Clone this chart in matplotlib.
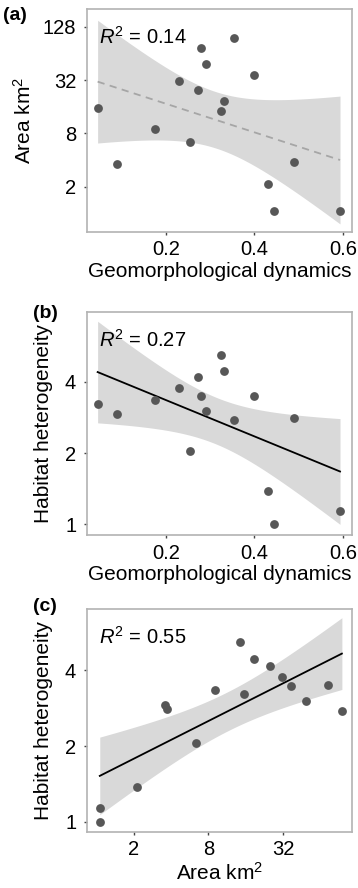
import numpy as np
import matplotlib
matplotlib.use('Agg')
import matplotlib.pyplot as plt
from matplotlib.ticker import FixedLocator, NullLocator

plt.rcParams['font.family'] = ['Liberation Sans', 'DejaVu Sans']
plt.rcParams['mathtext.fontset'] = 'custom'
plt.rcParams['mathtext.rm'] = 'Liberation Sans'
plt.rcParams['mathtext.it'] = 'Liberation Sans:italic'

# 16 sites
geo_dyn = [0.046, 0.089, 0.175, 0.230, 0.254, 0.272, 0.279, 0.290,
           0.325, 0.331, 0.354, 0.400, 0.430, 0.444, 0.489, 0.593]
area_km2 = [15.5, 3.6, 9.0, 31.5, 6.4, 25.0, 74.0, 49.0,
            14.3, 18.5, 95.0, 37.0, 2.12, 1.07, 3.75, 1.07]
habitat_het = [3.23, 2.92, 3.34, 3.75, 2.05, 4.18, 3.50, 3.01,
               5.20, 4.43, 2.77, 3.48, 1.38, 1.00, 2.82, 1.14]

r2_labels = ['0.14', '0.27', '0.55']
area_ticks = [2, 8, 32, 128]
het_ticks = [1, 2, 4]
geo_ticks = [0.2, 0.4, 0.6]

T975 = 2.1448  # t quantile, df = 14

POINT_COL = '#575757'
BAND_COL = '#d9d9d9'
BORDER_COL = '#b3b3b3'


def lm_band(x, y, n=100):
    # straight-line fit with 95% confidence band, like geom_smooth(method='lm')
    x = np.asarray(x, float)
    y = np.asarray(y, float)
    b, a = np.polyfit(x, y, 1)
    resid = y - (a + b * x)
    s = np.sqrt(np.sum(resid ** 2) / (len(x) - 2))
    xs = np.linspace(x.min(), x.max(), n)
    se = s * np.sqrt(1.0 / len(x) + (xs - x.mean()) ** 2 / np.sum((x - x.mean()) ** 2))
    fit = a + b * xs
    return xs, fit, fit - T975 * se, fit + T975 * se


def style_axes(ax):
    for sp in ax.spines.values():
        sp.set_color(BORDER_COL)
        sp.set_linewidth(1.2)
    ax.tick_params(axis='both', which='major', length=2.3, width=1.0,
                   color='#444444', labelsize=14.5, labelcolor='black')
    ax.tick_params(axis='x', which='major', pad=3.5)
    ax.tick_params(axis='y', which='major', pad=5.5)
    ax.tick_params(axis='both', which='minor', length=0)


def panel(ax, x, y, logx, r2, dashed=False):
    x = np.asarray(x, float)
    y = np.asarray(y, float)
    fx = np.log2(x) if logx else x
    xs, fit, lo, hi = lm_band(fx, np.log2(y))
    px = 2 ** xs if logx else xs
    ax.fill_between(px, 2 ** lo, 2 ** hi, color=BAND_COL, lw=0, zorder=1)
    if dashed:
        ax.plot(px, 2 ** fit, color='#a6a6a6', lw=1.3, ls=(0, (4, 3)), zorder=2)
    else:
        ax.plot(px, 2 ** fit, color='black', lw=1.3, zorder=2)
    ax.scatter(x, y, s=40, color=POINT_COL, lw=0, zorder=3)
    ax.set_yscale('log', base=2)
    if logx:
        ax.set_xscale('log', base=2)
    ax.text(0.045, 0.845, r'$R^2$' + ' = ' + r2, transform=ax.transAxes,
            fontsize=14.5, va='baseline', ha='left')
    style_axes(ax)


fig = plt.figure(figsize=(3.58, 8.88), dpi=100)
ax1 = fig.add_axes([0.2430, 0.7387, 0.7402, 0.2511])
ax2 = fig.add_axes([0.2430, 0.3970, 0.7402, 0.2517])
ax3 = fig.add_axes([0.2430, 0.0631, 0.7402, 0.2511])

# (a) area vs geomorphological dynamics
panel(ax1, geo_dyn, area_km2, False, r2_labels[0], dashed=True)
ax1.set_xlim(0.022, 0.62)
ax1.set_ylim(2 ** -0.71, 2 ** 7.67)
ax1.yaxis.set_major_locator(FixedLocator(area_ticks))
ax1.yaxis.set_minor_locator(NullLocator())
ax1.set_yticklabels([str(t) for t in area_ticks])
ax1.set_xticks(geo_ticks)
ax1.set_xticklabels([str(t) for t in geo_ticks])
ax1.set_xlabel('Geomorphological dynamics', fontsize=15, labelpad=2)
ax1.set_ylabel('Area km$^2$', fontsize=15)
ax1.yaxis.set_label_coords(-0.196, 0.5)

# (b) habitat heterogeneity vs geomorphological dynamics
panel(ax2, geo_dyn, habitat_het, False, r2_labels[1])
ax2.set_xlim(0.022, 0.62)
ax2.set_ylim(2 ** -0.154, 2 ** 2.98)
ax2.yaxis.set_major_locator(FixedLocator(het_ticks))
ax2.yaxis.set_minor_locator(NullLocator())
ax2.set_yticklabels([str(t) for t in het_ticks])
ax2.set_xticks(geo_ticks)
ax2.set_xticklabels([str(t) for t in geo_ticks])
ax2.set_xlabel('Geomorphological dynamics', fontsize=15, labelpad=2)
ax2.set_ylabel('Habitat heterogeneity', fontsize=15)
ax2.yaxis.set_label_coords(-0.128, 0.5)

# (c) habitat heterogeneity vs area
panel(ax3, area_km2, habitat_het, True, r2_labels[2])
ax3.set_xlim(2 ** -0.244, 2 ** 6.84)
ax3.set_ylim(2 ** -0.132, 2 ** 2.81)
ax3.xaxis.set_major_locator(FixedLocator(area_ticks[:3]))
ax3.xaxis.set_minor_locator(NullLocator())
ax3.set_xticklabels([str(t) for t in area_ticks[:3]])
ax3.yaxis.set_major_locator(FixedLocator(het_ticks))
ax3.yaxis.set_minor_locator(NullLocator())
ax3.set_yticklabels([str(t) for t in het_ticks])
ax3.set_xlabel('Area km$^2$', fontsize=15, labelpad=2)
ax3.set_ylabel('Habitat heterogeneity', fontsize=15)
ax3.yaxis.set_label_coords(-0.128, 0.5)

fig.text(3 / 358, 1 - 15 / 888, '(a)', fontsize=14, fontweight='bold', va='center', ha='left')
fig.text(33 / 358, 1 - 313 / 888, '(b)', fontsize=14, fontweight='bold', va='center', ha='left')
fig.text(33 / 358, 1 - 606 / 888, '(c)', fontsize=14, fontweight='bold', va='center', ha='left')

fig.savefig('out.png', dpi=100)
